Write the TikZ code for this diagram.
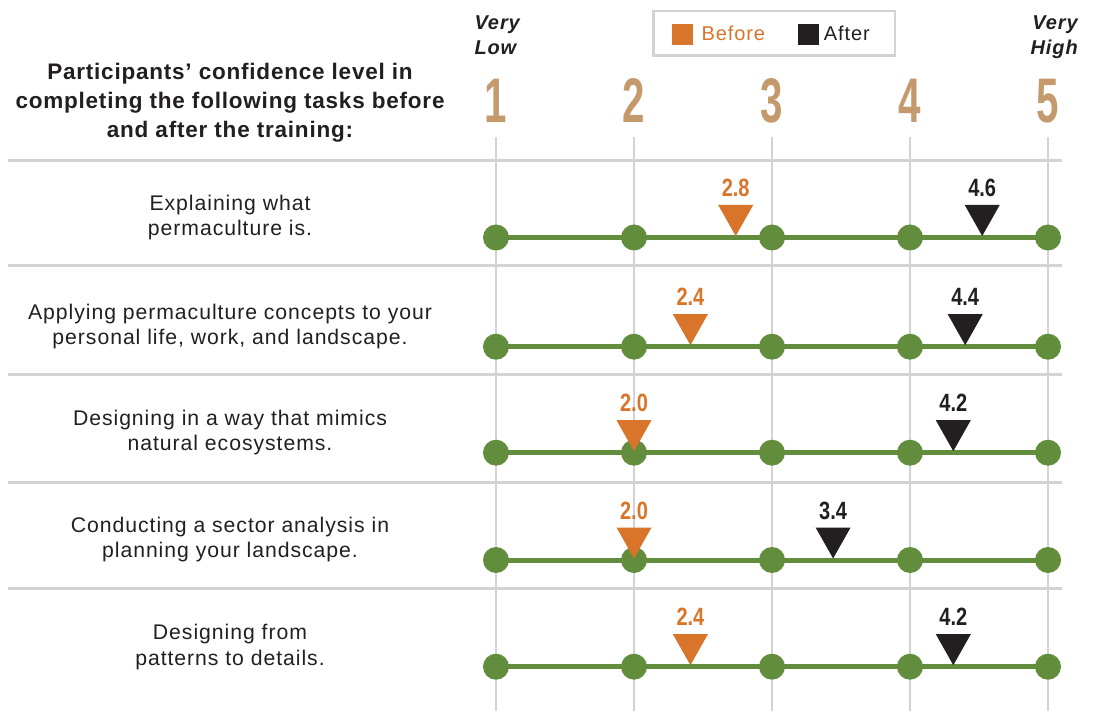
\documentclass[tikz,border=0pt]{standalone}
\usepackage{fontspec}
\setmainfont{Liberation Sans}
\newfontfamily\labfont{Liberation Sans}[LetterSpace=4.5]
\newfontfamily\titfont{Liberation Sans}[LetterSpace=3.5]
\newfontfamily\bignum{Liberation Sans}[FakeStretch=0.64]
\newfontfamily\valfont{Liberation Sans}[FakeStretch=0.8]
\definecolor{txt}{RGB}{35,31,32}
\definecolor{before}{RGB}{217,117,42}
\definecolor{after}{RGB}{35,31,32}
\definecolor{leaf}{RGB}{98,141,60}
\definecolor{tan}{RGB}{196,154,108}
\definecolor{gridgrey}{RGB}{211,211,213}
\tikzset{
  sepline/.style={draw=gridgrey, line width=3pt},
  gridline/.style={draw=gridgrey, line width=2pt},
  track/.style={draw=leaf, line width=5pt},
  dot/.style={circle, fill=leaf, minimum size=26pt, inner sep=0pt},
  lab/.style={anchor=base, inner sep=0pt, text=txt, font=\labfont\fontsize{21.2}{26}\selectfont},
  tit/.style={anchor=base, inner sep=0pt, text=txt, font=\titfont\bfseries\fontsize{22.5}{29}\selectfont},
  scalenum/.style={anchor=base, inner sep=0pt, text=tan, font=\bignum\bfseries\fontsize{63}{63}\selectfont},
  val/.style={anchor=base, inner sep=0pt, font=\valfont\bfseries\fontsize{25}{25}\selectfont},
  endlab/.style={inner sep=0pt, text=txt, font=\labfont\bfseries\itshape\fontsize{20}{26}\selectfont},
  legtext/.style={anchor=base west, inner sep=0pt, font=\labfont\fontsize{20}{24}\selectfont},
  legsq/.style={rectangle, minimum size=21pt, inner sep=0pt},
}
\begin{document}
\begin{tikzpicture}[x=1pt,y=-1pt]
\useasboundingbox (0,0) rectangle (1093,711);
\fill[white] (0,0) rectangle (1093,711);

% vertical grid lines
\foreach \c in {1,...,5}{
  \coordinate (gt\c) at ({496+138*(\c-1)},137);
  \coordinate (gb\c) at ({496+138*(\c-1)},711);
  \draw[gridline] (gt\c) -- (gb\c);
}
% horizontal separators
\foreach \s/\yy in {1/161,2/266,3/375,4/482,5/588}{
  \coordinate (sl\s) at (8,\yy);
  \coordinate (sr\s) at (1062,\yy);
  \draw[sepline] (sl\s) -- (sr\s);
}

% header
\node[tit] (t1) at (230,79.3) {Participants’ confidence level in};
\node[tit] (t2) at (230,108.3) {completing the following tasks before};
\node[tit] (t3) at (230,137.3) {and after the training:};

\node[endlab, anchor=base west] (vl1) at (474.3,29.3) {Very};
\node[endlab, anchor=base west] (vl2) at (474.3,55) {Low};
\node[endlab, anchor=base east] (vh1) at (1078,29.3) {Very};
\node[endlab, anchor=base east] (vh2) at (1078,55) {High};

\foreach \c in {1,...,5}{
  \node[scalenum] (n\c) at ({496+138*(\c-1)},122.3) {\c};
}

% legend
\node[draw=gridgrey, line width=2.5pt, minimum width=241.6pt, minimum height=44.7pt, inner sep=0pt] (legend) at (774.2,33.4) {};
\node[legsq, fill=before] (sqb) at (682.6,34.5) {};
\node[legtext, text=before] (lb) at (701.5,40.7) {Before};
\node[legsq, fill=after] (sqa) at (808.2,34.5) {};
\node[legtext, text=txt] (la) at (823.7,40.7) {After};

% row labels
\node[lab] (r1a) at (230,210.5) {Explaining what};
\node[lab] (r1b) at (230,235.5) {permaculture is.};
\node[lab] (r2a) at (230,319.5) {Applying permaculture concepts to your};
\node[lab] (r2b) at (230,344.5) {personal life, work, and landscape.};
\node[lab] (r3a) at (230,425.2) {Designing in a way that mimics};
\node[lab] (r3b) at (230,450.7) {natural ecosystems.};
\node[lab] (r4a) at (230,532.5) {Conducting a sector analysis in};
\node[lab] (r4b) at (230,557.5) {planning your landscape.};
\node[lab] (r5a) at (230,639.5) {Designing from};
\node[lab] (r5b) at (230,665.2) {patterns to details.};

% rows with markers
\foreach \r/\L/\ox/\ov/\bx/\bv in {1/237.5/735.7/2.8/982.2/4.6, 2/346.7/690.4/2.4/965.2/4.4, 3/452.7/634/2.0/953.3/4.2, 4/560/634/2.0/833.1/3.4, 5/666.7/690.4/2.4/953.3/4.2}{
  \foreach \c in {1,...,5}{
    \coordinate (p\r-\c) at ({496+138*(\c-1)},\L);
  }
  \draw[track] (p\r-1) -- (p\r-5);
  \foreach \c in {1,...,5}{
    \node[dot] (d\r-\c) at (p\r-\c) {};
  }
  \fill[before] (\ox-17.5,\L-32.5) -- (\ox+17.5,\L-32.5) -- (\ox,\L-1.5) -- cycle;
  \fill[after] (\bx-17.5,\L-32.5) -- (\bx+17.5,\L-32.5) -- (\bx,\L-1.5) -- cycle;
  \node[val, text=before] (vb\r) at (\ox,\L-41) {\ov};
  \node[val, text=after] (va\r) at (\bx,\L-41) {\bv};
}
\end{tikzpicture}
\end{document}
